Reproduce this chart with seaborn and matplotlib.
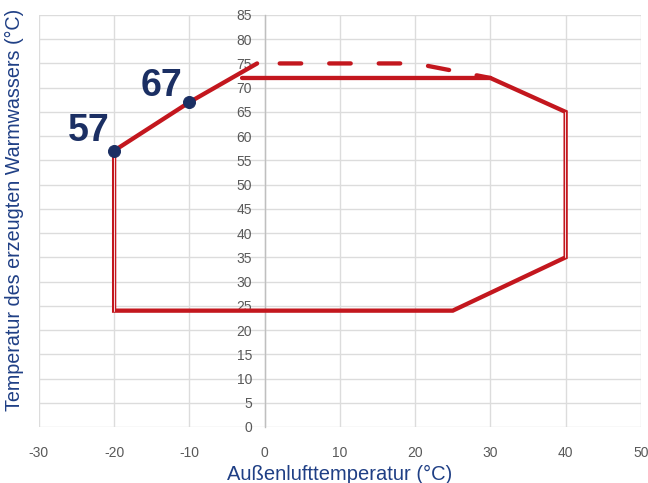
import matplotlib
matplotlib.use("Agg")
import matplotlib.pyplot as plt
import seaborn as sns
import pandas as pd

# ---- data ----
solid_x = [-1, -10, -20, -20, 25, 40, 40, 30, -3]
solid_y = [75, 67, 57, 24, 24, 35, 65, 72, 72]
dash_x = [2, 20, 30]
dash_y = [75, 75, 72]
point_x = [-20, -10]
point_y = [57, 67]
point_labels = ["57", "67"]
x_ticks = [-30, -20, -10, 0, 10, 20, 30, 40, 50]
y_ticks = list(range(0, 90, 5))

RED = "#C3171E"
NAVY = "#1B2F63"
LABEL = "#1F3F85"
GRID = "#DCDCDC"
TICK = "#595959"

sns.set_style("white")
plt.rcParams["font.family"] = ["Liberation Sans", "DejaVu Sans"]
plt.rcParams["axes.unicode_minus"] = False

fig = plt.figure(figsize=(6.48, 4.83), dpi=100)
ax = fig.add_axes([0.060, 0.116, 0.929, 0.853])

solid = pd.DataFrame({"x": solid_x, "y": solid_y})
dash = pd.DataFrame({"x": dash_x, "y": dash_y})
pts = pd.DataFrame({"x": point_x, "y": point_y, "label": point_labels})

sns.lineplot(data=solid, x="x", y="y", sort=False, estimator=None, ax=ax,
             color=RED, lw=3.1, zorder=3, solid_joinstyle="miter")
# thin white stripe on the vertical edges (double-line look)
for i in range(len(solid_x) - 1):
    if solid_x[i] == solid_x[i + 1]:
        ax.plot([solid_x[i] - 0.08] * 2, [solid_y[i], solid_y[i + 1]],
                color="white", lw=0.6, zorder=4)
ln = sns.lineplot(data=dash, x="x", y="y", sort=False, estimator=None, ax=ax,
                  color=RED, lw=3.1, zorder=3)
ln.lines[-1].set_dashes([5.0, 6.5])
ln.lines[-1].set_dash_capstyle("round")

sns.scatterplot(data=pts, x="x", y="y", ax=ax, color=NAVY, s=75,
                edgecolor=NAVY, zorder=5)
offsets = [(-3.4, 4.0), (-3.7, 3.4)]
for (_, r), (dx, dy) in zip(pts.iterrows(), offsets):
    ax.text(r["x"] + dx, r["y"] + dy, r["label"], ha="center", va="center",
            fontsize=27, fontweight="bold", color=NAVY, zorder=6)

ax.set_xlim(-30, 50)
ax.set_ylim(0, 85)
ax.set_xticks(x_ticks)
ax.set_yticks(y_ticks)
ax.grid(True, color=GRID, lw=1)
ax.set_axisbelow(True)
for s in ["top", "right", "bottom"]:
    ax.spines[s].set_visible(False)
ax.spines["left"].set_position(("data", 0))
ax.spines["left"].set_color("#BFBFBF")
ax.spines["left"].set_linewidth(1)
ax.tick_params(axis="both", length=0, labelsize=10, labelcolor=TICK)
ax.tick_params(axis="y", pad=9)
ax.tick_params(axis="x", pad=14)

ax.set_xlabel("Außenlufttemperatur (°C)", fontsize=14.5, color=LABEL, labelpad=3)
ax.set_ylabel("")
fig.text(0.022, 0.565, "Temperatur des erzeugten Warmwassers (°C)", rotation=90,
         ha="center", va="center", fontsize=14.2, color=LABEL)

fig.savefig("out.png", dpi=100)
